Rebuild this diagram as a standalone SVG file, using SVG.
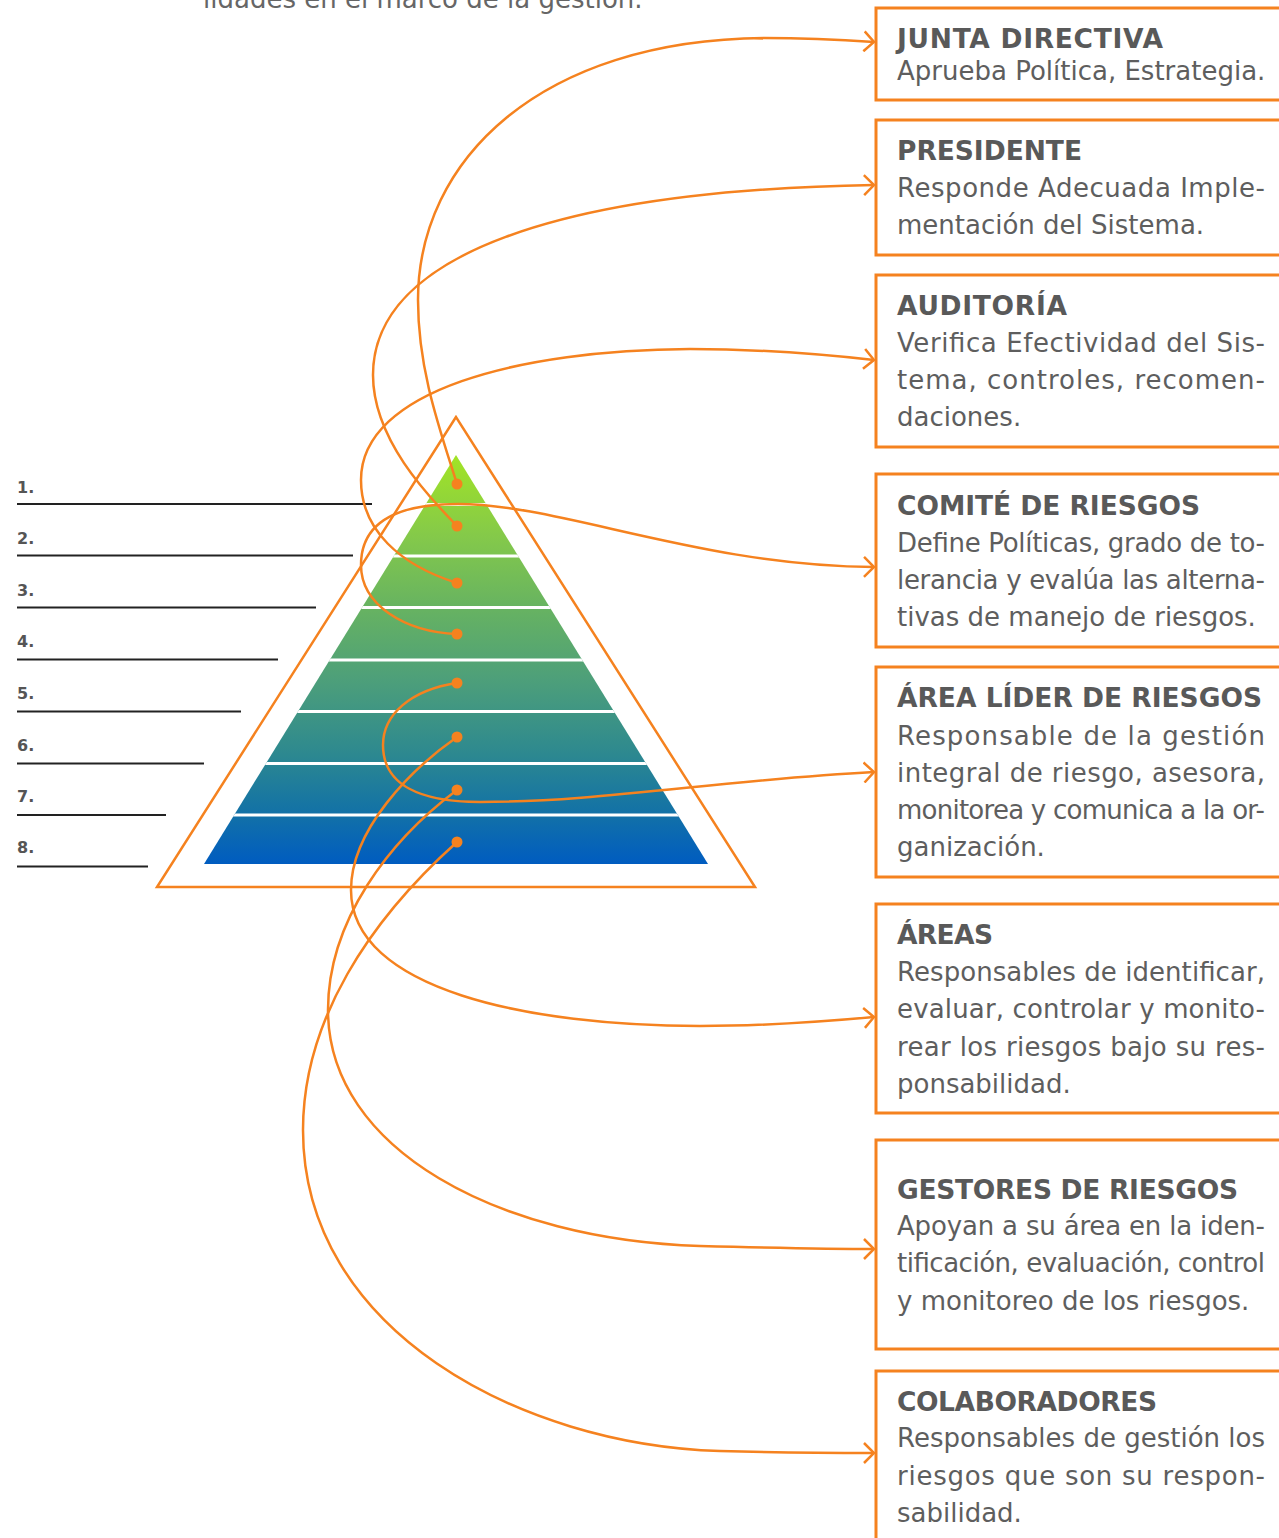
<svg xmlns="http://www.w3.org/2000/svg" width="1279" height="1538" viewBox="0 0 1279 1538">
<style>
.box{fill:#fff;stroke:#F5821F;stroke-width:3}
.ttl{font-family:"DejaVu Sans","Liberation Sans",sans-serif;font-weight:bold;font-size:26.5px;fill:#595959}
.bd{font-family:"DejaVu Sans","Liberation Sans",sans-serif;font-size:26px;fill:#5e5e5e}
.num{font-family:"DejaVu Sans","Liberation Sans",sans-serif;font-weight:bold;font-size:16px;fill:#555}
.ln{stroke:#222;stroke-width:1.8}
.con{fill:none;stroke:#F5821F;stroke-width:2.5}
.dot{fill:#F5821F}
</style>
<defs>
<linearGradient id="pg" gradientUnits="userSpaceOnUse" x1="0" y1="455" x2="0" y2="864">
<stop offset="0" stop-color="#a2e425"/>
<stop offset="0.2" stop-color="#84c94a"/>
<stop offset="0.38" stop-color="#66b262"/>
<stop offset="0.55" stop-color="#4d9f7a"/>
<stop offset="0.72" stop-color="#2f8a8e"/>
<stop offset="0.86" stop-color="#1574a4"/>
<stop offset="1" stop-color="#005cc0"/>
</linearGradient>
<clipPath id="pc"><polygon points="456,455 204,864 708,864"/></clipPath>
<marker id="ah" markerUnits="userSpaceOnUse" viewBox="0 0 12 22" refX="11" refY="11" markerWidth="12" markerHeight="22" orient="auto">
<path d="M1,1 L11,11 L1,21" fill="none" stroke="#F5821F" stroke-width="2.5"/>
</marker>
</defs>
<rect width="1279" height="1538" fill="#fff"/>
<text x="203" y="8" font-family="DejaVu Sans, Liberation Sans, sans-serif" font-size="26" fill="#666">lidades en el marco de la gestión.</text>

<g id="labels">
<text class="num" x="17" y="493">1.</text><line class="ln" x1="17" y1="504" x2="372" y2="504"/>
<text class="num" x="17" y="544">2.</text><line class="ln" x1="17" y1="555.5" x2="353" y2="555.5"/>
<text class="num" x="17" y="596">3.</text><line class="ln" x1="17" y1="607.5" x2="316" y2="607.5"/>
<text class="num" x="17" y="647">4.</text><line class="ln" x1="17" y1="659.5" x2="278" y2="659.5"/>
<text class="num" x="17" y="699">5.</text><line class="ln" x1="17" y1="711.5" x2="241" y2="711.5"/>
<text class="num" x="17" y="751">6.</text><line class="ln" x1="17" y1="763.5" x2="204" y2="763.5"/>
<text class="num" x="17" y="802">7.</text><line class="ln" x1="17" y1="815" x2="166" y2="815"/>
<text class="num" x="17" y="853">8.</text><line class="ln" x1="17" y1="866.5" x2="148" y2="866.5"/>
</g>

<g id="pyramid">
<polygon points="456,455 204,864 708,864" fill="url(#pg)"/>
<g clip-path="url(#pc)" fill="#fff">
<rect x="150" y="503" width="620" height="3"/>
<rect x="150" y="554.5" width="620" height="3"/>
<rect x="150" y="606" width="620" height="3"/>
<rect x="150" y="658.5" width="620" height="3"/>
<rect x="150" y="710" width="620" height="3"/>
<rect x="150" y="762" width="620" height="3"/>
<rect x="150" y="813.5" width="620" height="3"/>
</g>
<polygon points="456,417 157,887 755,887" fill="none" stroke="#F5821F" stroke-width="2.5"/>
</g>

<g id="box1"><rect class="box" x="876" y="8" width="430" height="92"/>
<text class="ttl" x="897" y="48" textLength="266" lengthAdjust="spacing">JUNTA DIRECTIVA</text>
<text class="bd" x="897" y="80">Aprueba Política, Estrategia.</text></g>

<g id="box2"><rect class="box" x="876" y="120" width="430" height="135"/>
<text class="ttl" x="897" y="160" textLength="185" lengthAdjust="spacing">PRESIDENTE</text>
<text class="bd" x="897" y="197" textLength="368" lengthAdjust="spacing">Responde Adecuada Imple-</text>
<text class="bd" x="897" y="234">mentación del Sistema.</text></g>

<g id="box3"><rect class="box" x="876" y="275" width="430" height="172"/>
<text class="ttl" x="897" y="315" textLength="170" lengthAdjust="spacing">AUDITORÍA</text>
<text class="bd" x="897" y="352" textLength="368" lengthAdjust="spacing">Verifica Efectividad del Sis-</text>
<text class="bd" x="897" y="389" textLength="368" lengthAdjust="spacing">tema, controles, recomen-</text>
<text class="bd" x="897" y="426">daciones.</text></g>

<g id="box4"><rect class="box" x="876" y="474" width="430" height="173"/>
<text class="ttl" x="897" y="515" textLength="303" lengthAdjust="spacing">COMITÉ DE RIESGOS</text>
<text class="bd" x="897" y="552" textLength="368" lengthAdjust="spacing">Define Políticas, grado de to-</text>
<text class="bd" x="897" y="589" textLength="368" lengthAdjust="spacing">lerancia y evalúa las alterna-</text>
<text class="bd" x="897" y="626">tivas de manejo de riesgos.</text></g>

<g id="box5"><rect class="box" x="876" y="667" width="430" height="210"/>
<text class="ttl" x="897" y="707" textLength="365" lengthAdjust="spacing">ÁREA LÍDER DE RIESGOS</text>
<text class="bd" x="897" y="745" textLength="368" lengthAdjust="spacing">Responsable de la gestión</text>
<text class="bd" x="897" y="782" textLength="368" lengthAdjust="spacing">integral de riesgo, asesora,</text>
<text class="bd" x="897" y="819" textLength="368" lengthAdjust="spacing">monitorea y comunica a la or-</text>
<text class="bd" x="897" y="856">ganización.</text></g>

<g id="box6"><rect class="box" x="876" y="904" width="430" height="209"/>
<text class="ttl" x="897" y="944" textLength="96" lengthAdjust="spacing">ÁREAS</text>
<text class="bd" x="897" y="981" textLength="368" lengthAdjust="spacing">Responsables de identificar,</text>
<text class="bd" x="897" y="1018" textLength="368" lengthAdjust="spacing">evaluar, controlar y monito-</text>
<text class="bd" x="897" y="1056" textLength="368" lengthAdjust="spacing">rear los riesgos bajo su res-</text>
<text class="bd" x="897" y="1093">ponsabilidad.</text></g>

<g id="box7"><rect class="box" x="876" y="1140" width="430" height="209"/>
<text class="ttl" x="897" y="1199" textLength="341" lengthAdjust="spacing">GESTORES DE RIESGOS</text>
<text class="bd" x="897" y="1235" textLength="368" lengthAdjust="spacing">Apoyan a su área en la iden-</text>
<text class="bd" x="897" y="1272" textLength="368" lengthAdjust="spacing">tificación, evaluación, control</text>
<text class="bd" x="897" y="1310">y monitoreo de los riesgos.</text></g>

<g id="box8"><rect class="box" x="876" y="1371" width="430" height="200"/>
<text class="ttl" x="897" y="1411" textLength="260" lengthAdjust="spacing">COLABORADORES</text>
<text class="bd" x="897" y="1447" textLength="368" lengthAdjust="spacing">Responsables de gestión los</text>
<text class="bd" x="897" y="1485" textLength="368" lengthAdjust="spacing">riesgos que son su respon-</text>
<text class="bd" x="897" y="1522">sabilidad.</text></g>

<g id="connectors">
<path class="con" marker-end="url(#ah)" d="M457,484 C440,430 418,370 418,300 C418,160 540,40 764,38 C810,38 845,40 874,42"/>
<path class="con" marker-end="url(#ah)" d="M457,526 C430,498 373,440 373,375 C373,255 560,190 874,185"/>
<path class="con" marker-end="url(#ah)" d="M457,583 C400,565 361,530 361,480 C361,390 520,350 690,349 C760,349 820,354 874,360"/>
<path class="con" marker-end="url(#ah)" d="M457,634 C405,632 361,605 361,565 C361,520 400,504 458,504 C560,504 700,566 874,567"/>
<path class="con" marker-end="url(#ah)" d="M457,683 C410,690 383,715 383,745 C383,785 420,802 480,802 C600,802 720,780 874,772"/>
<path class="con" marker-end="url(#ah)" d="M457,737 C410,770 351,830 351,890 C351,990 530,1026 700,1026 C770,1026 830,1021 874,1017"/>
<path class="con" marker-end="url(#ah)" d="M457,790 C390,840 328,920 328,1010 C328,1150 500,1240 700,1246 C780,1248 830,1249 874,1249"/>
<path class="con" marker-end="url(#ah)" d="M457,842 C370,920 303,1020 303,1130 C303,1330 520,1445 720,1451 C790,1453 840,1453 874,1453"/>
<circle class="dot" cx="457" cy="484" r="5.5"/>
<circle class="dot" cx="457" cy="526" r="5.5"/>
<circle class="dot" cx="457" cy="583" r="5.5"/>
<circle class="dot" cx="457" cy="634" r="5.5"/>
<circle class="dot" cx="457" cy="683" r="5.5"/>
<circle class="dot" cx="457" cy="737" r="5.5"/>
<circle class="dot" cx="457" cy="790" r="5.5"/>
<circle class="dot" cx="457" cy="842" r="5.5"/>
</g>
</svg>
